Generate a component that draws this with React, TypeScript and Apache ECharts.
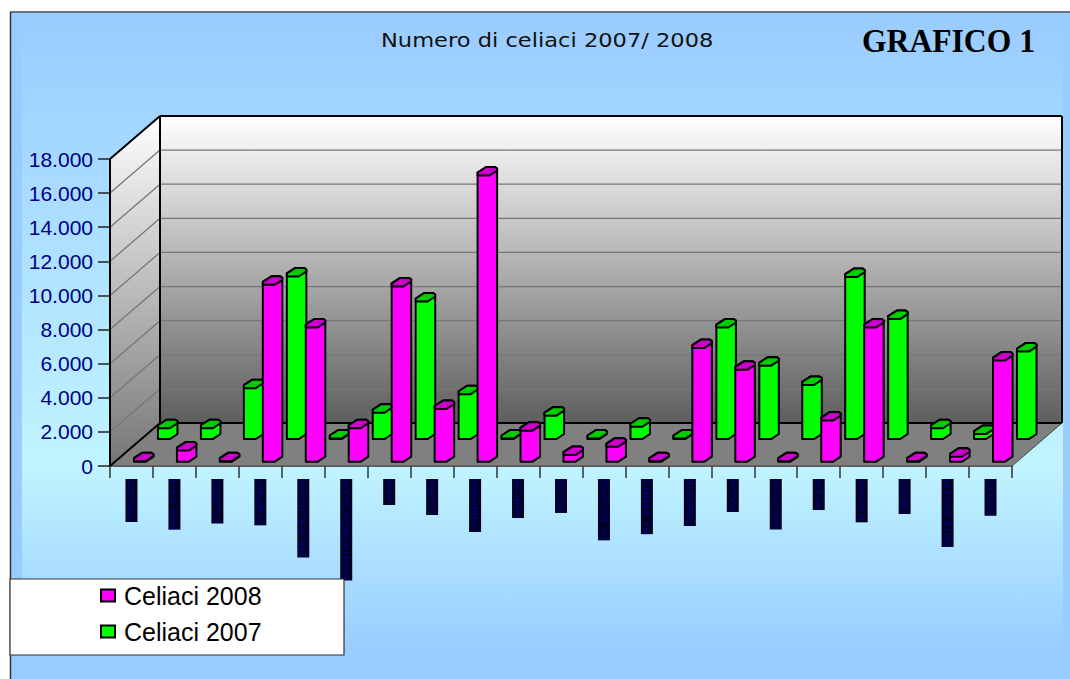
import React, { useEffect, useRef } from "react";
import * as echarts from "echarts";

const regions = ["ABRUZZO","BASILICATA","CALABRIA","CAMPANIA","EMILIA ROMAGNA","FRIULI VENEZIA GIULIA","LAZIO","LIGURIA","LOMBARDIA","MARCHE","MOLISE","P.A. BOLZANO","P.A. TRENTO","PIEMONTE","PUGLIA","SARDEGNA","SICILIA","TOSCANA","UMBRIA","VALLE D'AOSTA","VENETO"];
const celiaci2008 = [30,650,30,10370,7870,1960,10275,3090,16780,1820,390,880,30,6660,5385,30,2410,7870,30,290,5930];
const celiaci2007 = [630,630,2980,9530,30,1545,8060,2625,30,1370,30,720,30,6535,4300,3170,9495,7030,630,290,5125];
const yTicks = [0,2000,4000,6000,8000,10000,12000,14000,16000,18000];

const DEPTH_X = 50, DEPTH_Y = 43;

function bar(offsetX: number, liftY: number, front: string, top: string) {
  return (_p: any, api: any) => {
    const pt = api.coord([api.value(0), api.value(1)]);
    const base = api.coord([api.value(0), 0]);
    const x = pt[0] + offsetX;
    const yT = pt[1] - liftY;
    const yB = base[1] - liftY;
    const stroke = { stroke: "#000", lineWidth: 2, lineJoin: "round" };
    const body = [[x,yB],[x+12,yB],[x+19.5,yB-5],[x+19.5,yT-7],[x+17.5,yT-8.5],[x+8.5,yT-8.5],[x,yT-3]];
    const topFace = [[x,yT],[x+12,yT],[x+19.5,yT-5],[x+19.5,yT-7],[x+17.5,yT-8.5],[x+8.5,yT-8.5],[x,yT-3]];
    return {
      type: "group",
      children: [
        { type: "polygon", shape: { points: body }, style: { fill: front, ...stroke } },
        { type: "polygon", shape: { points: topFace }, style: { fill: top, ...stroke } },
      ],
    };
  };
}

function walls(params: any, api: any) {
  const c = params.coordSys;
  const L = c.x, R = c.x + c.width, T = c.y, B = c.y + c.height;
  const kids: any[] = [];
  const wallFill = new echarts.graphic.LinearGradient(0, 0, 0, 1, [{ offset: 0, color: "#ffffff" }, { offset: 1, color: "#5e5e5e" }]);
  const sideFill = new echarts.graphic.LinearGradient(0, 0, 0, 1, [{ offset: 0, color: "#ffffff" }, { offset: 1, color: "#767676" }]);
  kids.push({ type: "polygon", shape: { points: [[L+DEPTH_X,T-DEPTH_Y],[R+DEPTH_X,T-DEPTH_Y],[R+DEPTH_X,B-DEPTH_Y],[L+DEPTH_X,B-DEPTH_Y]] }, style: { fill: wallFill } });
  kids.push({ type: "polygon", shape: { points: [[L,T],[L+DEPTH_X,T-DEPTH_Y],[L+DEPTH_X,B-DEPTH_Y],[L,B]] }, style: { fill: sideFill } });
  kids.push({ type: "polygon", shape: { points: [[L,B],[L+DEPTH_X,B-DEPTH_Y],[R+DEPTH_X,B-DEPTH_Y],[R,B]] }, style: { fill: "#808080", stroke: "#444", lineWidth: 1 } });
  yTicks.slice(1, -1).forEach((v) => {
    const y = api.coord([0, v])[1];
    const line = { stroke: "#777", lineWidth: 1.3 };
    kids.push({ type: "line", shape: { x1: L, y1: y, x2: L+DEPTH_X, y2: y-DEPTH_Y }, style: line });
    kids.push({ type: "line", shape: { x1: L+DEPTH_X, y1: y-DEPTH_Y, x2: R+DEPTH_X, y2: y-DEPTH_Y }, style: line });
  });
  const edge = { stroke: "#000", lineWidth: 2 };
  [
    [L,T,L+DEPTH_X,T-DEPTH_Y],[L+DEPTH_X,T-DEPTH_Y,R+DEPTH_X,T-DEPTH_Y],[L+DEPTH_X,T-DEPTH_Y,L+DEPTH_X,B-DEPTH_Y],
    [L,B,L+DEPTH_X,B-DEPTH_Y],[L+DEPTH_X,B-DEPTH_Y,R+DEPTH_X,B-DEPTH_Y],[L,T,L,B],[R+DEPTH_X,T-DEPTH_Y,R+DEPTH_X,B-DEPTH_Y],
  ].forEach(([x1,y1,x2,y2]) => kids.push({ type: "line", shape: { x1, y1, x2, y2 }, style: edge }));
  return { type: "group", children: kids };
}

export default function App() {
  const ref = useRef<HTMLDivElement>(null);
  useEffect(() => {
    const chart = echarts.init(ref.current!, null, { renderer: "svg" });
    chart.setOption({
      animation: false,
      grid: { left: 110, right: 58, top: 159, bottom: 213 },
      xAxis: {
        type: "category",
        data: regions,
        axisLine: { show: true, lineStyle: { color: "#555", width: 1.5 } },
        axisTick: { show: true, length: 12, alignWithLabel: false, lineStyle: { color: "#333", width: 1.5 } },
        axisLabel: {
          interval: 0, rotate: 90, margin: 13, fontSize: 9, fontFamily: "Liberation Sans",
          color: "#00008c", backgroundColor: "#000022", lineHeight: 12,
        },
      },
      yAxis: {
        type: "value", min: 0, max: 18000, interval: 2000,
        splitLine: { show: false },
        axisLine: { show: true, lineStyle: { color: "#000", width: 1.5 } },
        axisTick: { show: true, length: 12, lineStyle: { color: "#222", width: 1.5 } },
        axisLabel: {
          margin: 17, fontSize: 21, fontFamily: "Liberation Sans", color: "#000088",
          formatter: (v: number) => (v === 0 ? "0" : `${v / 1000}.000`),
        },
      },
      legend: {
        orient: "vertical", left: 95, top: 578, itemWidth: 14, itemHeight: 12, itemGap: 11, z: 20,
        data: [{ name: "Celiaci 2008", icon: "rect" }, { name: "Celiaci 2007", icon: "rect" }],
        textStyle: { fontSize: 25, fontFamily: "Liberation Sans", color: "#000", padding: [0, 0, 0, 4] },
      },
      graphic: [
        { type: "rect", z: -10, shape: { x: 10, y: 11, width: 1060, height: 668 }, style: { fill: "#99ccff" } },
        { type: "rect", z: -9, shape: { x: 22, y: 12, width: 1041, height: 667 }, style: {
          fill: new echarts.graphic.LinearGradient(0, 0, 0, 1, [
            { offset: 0, color: "#99ccff" }, { offset: 0.68, color: "#c0f4ff" }, { offset: 0.96, color: "#99ccff" }, { offset: 1, color: "#99ccff" },
          ]) } },
        { type: "line", z: -8, shape: { x1: 10, y1: 12, x2: 1070, y2: 12 }, style: { stroke: "#555", lineWidth: 1.5 } },
        { type: "line", z: -8, shape: { x1: 10.5, y1: 12, x2: 10.5, y2: 679 }, style: { stroke: "#333", lineWidth: 1.5 } },
        { type: "rect", z: 15, shape: { x: 10, y: 579, width: 334, height: 76 }, style: { fill: "#fff", stroke: "#333", lineWidth: 1.2 } },
        { type: "text", z: 15, x: 381, y: 41, scaleX: 1.187, style: { text: "Numero di celiaci 2007/ 2008", font: "19px 'DejaVu Sans'", fill: "#111", textVerticalAlign: "middle" } },
        { type: "text", z: 15, x: 862, y: 41, scaleX: 0.93, style: { text: "GRAFICO 1", font: "bold 34px 'Liberation Serif'", fill: "#000", textVerticalAlign: "middle" } },
      ],
      series: [
        { type: "custom", z: 1, silent: true, clip: false, renderItem: walls, data: [[0, 0]], encode: { x: 0, y: 1 } },
        { type: "custom", name: "Celiaci 2007", z: 3, clip: false, renderItem: bar(26.5, 27, "#00ff00", "#00cc00"), itemStyle: { color: "#00ff00", borderColor: "#000", borderWidth: 1 }, data: celiaci2007.map((v, i) => [i, v]), encode: { x: 0, y: 1 } },
        { type: "custom", name: "Celiaci 2008", z: 4, clip: false, renderItem: bar(2.5, 4.3, "#ff00ff", "#cc00cc"), itemStyle: { color: "#ff00ff", borderColor: "#000", borderWidth: 1 }, data: celiaci2008.map((v, i) => [i, v]), encode: { x: 0, y: 1 } },
      ],
    });
    return () => chart.dispose();
  }, []);
  return <div ref={ref} style={{ position: "fixed", left: 0, top: 0, width: 1070, height: 679, background: "#fff" }} />;
}
